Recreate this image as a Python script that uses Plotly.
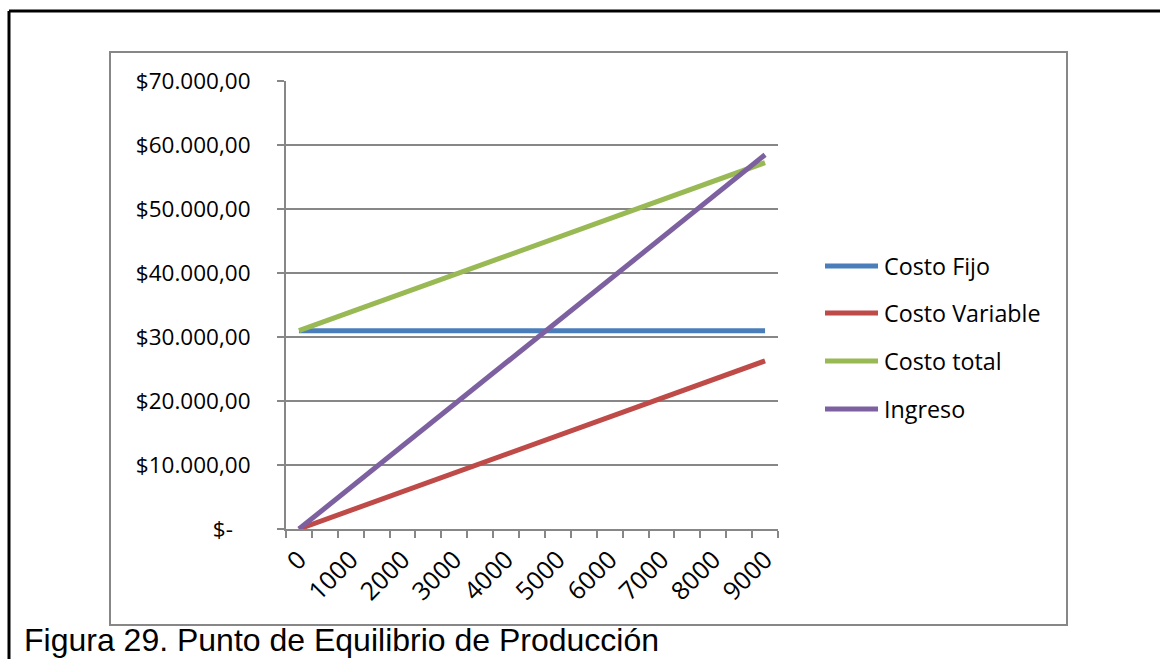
import plotly.graph_objects as go

# Production quantities (units) on the category axis
unidades = ["0", "500", "1000", "1500", "2000", "2500", "3000", "3500", "4000", "4500",
            "5000", "5500", "6000", "6500", "7000", "7500", "8000", "8500", "9000"]
etiquetas_x = ["0", "", "1000", "", "2000", "", "3000", "", "4000", "",
               "5000", "", "6000", "", "7000", "", "8000", "", "9000"]

costo_fijo = [31000, 31000, 31000, 31000, 31000, 31000, 31000, 31000, 31000, 31000,
              31000, 31000, 31000, 31000, 31000, 31000, 31000, 31000, 31000]
costo_variable = [0, 1460, 2920, 4380, 5840, 7300, 8760, 10220, 11680, 13140,
                  14600, 16060, 17520, 18980, 20440, 21900, 23360, 24820, 26280]
costo_total = [31000, 32460, 33920, 35380, 36840, 38300, 39760, 41220, 42680, 44140,
               45600, 47060, 48520, 49980, 51440, 52900, 54360, 55820, 57280]
ingreso = [0, 3250, 6500, 9750, 13000, 16250, 19500, 22750, 26000, 29250,
           32500, 35750, 39000, 42250, 45500, 48750, 52000, 55250, 58500]

series_nombres = ["Costo Fijo", "Costo Variable", "Costo total", "Ingreso"]
series_valores = [costo_fijo, costo_variable, costo_total, ingreso]
series_colores = ["#4A7EBB", "#BE4B48", "#98B954", "#7D60A0"]

y_vals = [0, 10000, 20000, 30000, 40000, 50000, 60000, 70000]
y_text = ["$-\u00a0\u00a0\u00a0", "$10.000,00", "$20.000,00", "$30.000,00", "$40.000,00",
          "$50.000,00", "$60.000,00", "$70.000,00"]

W, H = 1160, 659
ML, MR, MT, MB = 286, 382, 81, 130
PW, PH = W - ML - MR, H - MT - MB


def px(x):
    return (x - ML) / PW


def py(y):
    return 1 - (y - MT) / PH


FONT = "Open Sans"
GRID = "#878787"

fig = go.Figure()
for nombre, valores, color in zip(series_nombres, series_valores, series_colores):
    fig.add_trace(go.Scatter(
        x=unidades, y=valores, name=nombre, mode="lines",
        line=dict(color=color, width=5), showlegend=False,
    ))

shapes = [
    # outer frame (top and left rules)
    dict(type="line", xref="paper", yref="paper", x0=px(9), x1=px(1162), y0=py(11), y1=py(11),
         line=dict(color="black", width=3)),
    dict(type="line", xref="paper", yref="paper", x0=px(9), x1=px(9), y0=py(11), y1=py(662),
         line=dict(color="black", width=3)),
    # chart area border
    dict(type="rect", xref="paper", yref="paper", x0=px(110), x1=px(1067), y0=py(52), y1=py(625),
         line=dict(color=GRID, width=2), layer="below"),
]

annotations = [
    dict(text="Figura 29. Punto de Equilibrio de Producción", xref="paper", yref="paper",
         x=px(23), y=py(659), xanchor="left", yanchor="bottom", showarrow=False,
         borderpad=0, font=dict(family="Liberation Sans, Arial", size=32, color="black")),
]

# legend drawn as line swatches with labels
leg_y = [266, 313, 361, 409]
for nombre, color, ly in zip(series_nombres, series_colores, leg_y):
    shapes.append(dict(type="line", xref="paper", yref="paper", x0=px(825), x1=px(878),
                       y0=py(ly), y1=py(ly), line=dict(color=color, width=5)))
    annotations.append(dict(text=nombre, xref="paper", yref="paper", x=px(882), y=py(ly),
                            xanchor="left", yanchor="middle", showarrow=False,
                            font=dict(family=FONT, size=23.3, color="black")))

fig.update_layout(
    width=W, height=H, autosize=False,
    margin=dict(l=ML, r=MR, t=MT, b=MB, pad=0),
    paper_bgcolor="white", plot_bgcolor="white",
    shapes=shapes, annotations=annotations,
    showlegend=False,
    xaxis=dict(
        type="category", categoryorder="array", categoryarray=unidades,
        tickmode="array", tickvals=unidades, ticktext=etiquetas_x,
        tickson="boundaries", ticks="outside", ticklen=7, tickwidth=2, tickcolor=GRID,
        tickangle=-45, tickfont=dict(family=FONT, size=25, color="black"),
        ticklabelstandoff=4,
        showgrid=False, showline=True, linecolor=GRID, linewidth=2,
        range=[-0.5, 18.5], zeroline=False,
    ),
    yaxis=dict(
        range=[0, 70040], tickmode="array", tickvals=y_vals, ticktext=y_text,
        ticks="outside", ticklen=7, tickwidth=2, tickcolor=GRID,
        tickfont=dict(family=FONT, size=22.5, color="black"), ticklabelstandoff=22,
        showgrid=True, gridcolor=GRID, gridwidth=2,
        showline=True, linecolor=GRID, linewidth=2, zeroline=False,
    ),
)

fig.write_html("out.html")
